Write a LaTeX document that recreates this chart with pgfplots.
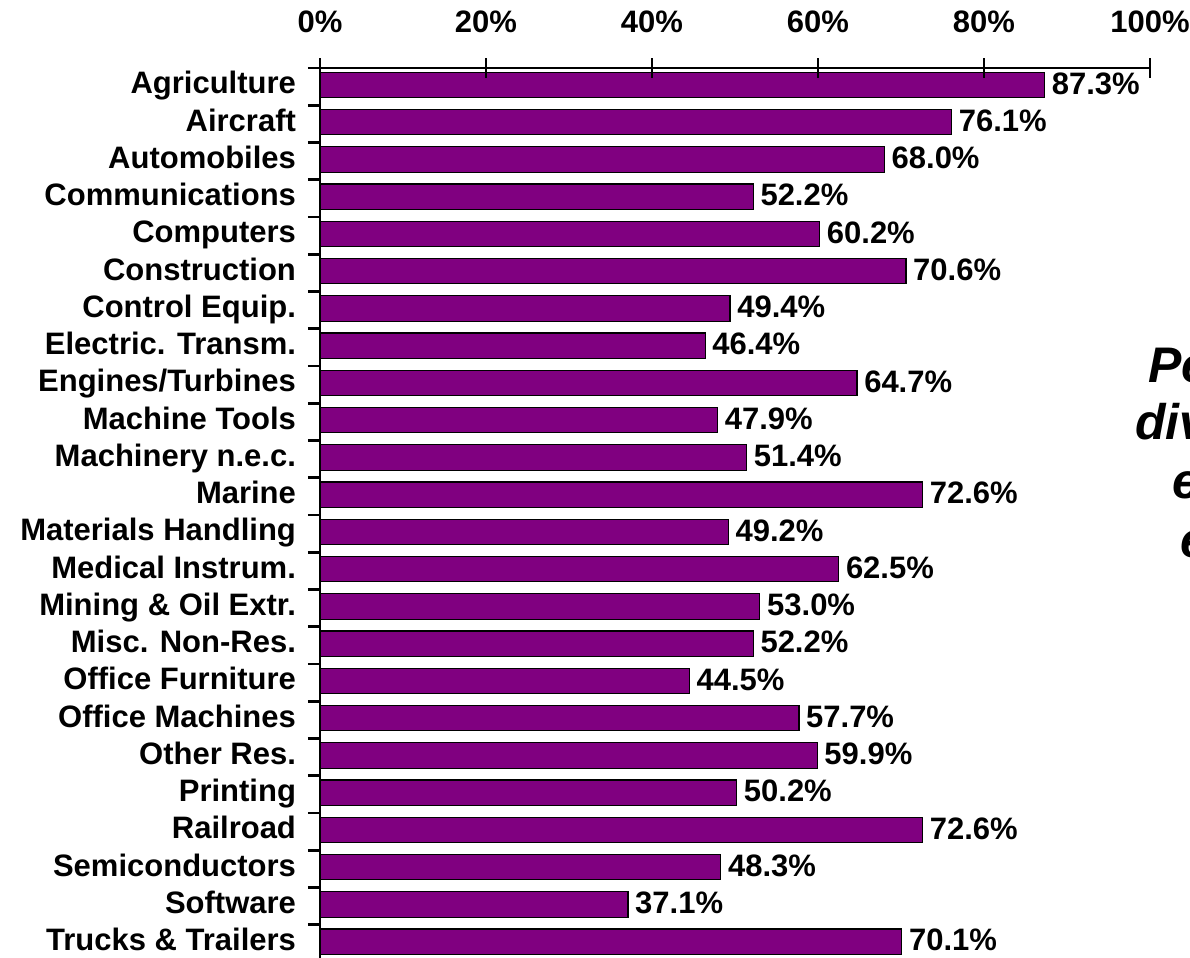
\documentclass[border=0pt]{standalone}
\usepackage{pgfplots}
\pgfplotsset{compat=1.18}
\usepackage{fontspec}
\setmainfont{Liberation Sans}
\definecolor{barpurple}{RGB}{128,0,128}
\pgfplotstableread[col sep=comma]{
idx,val
0,87.3
1,76.1
2,68.0
3,52.2
4,60.2
5,70.6
6,49.4
7,46.4
8,64.7
9,47.9
10,51.4
11,72.6
12,49.2
13,62.5
14,53.0
15,52.2
16,44.5
17,57.7
18,59.9
19,50.2
20,72.6
21,48.3
22,37.1
23,70.1
}\datatable
\begin{document}
\begin{tikzpicture}
\begin{scope}
\clip (-160pt,2pt) rectangle (435pt,481pt);
\begin{axis}[
  scale only axis,
  width=415pt, height=447pt,
  xmin=0, xmax=100,
  ymin=-0.5, ymax=23.5,
  y dir=reverse,
  axis on top,
  axis x line*=top,
  axis y line*=left,
  axis line style={-, line width=1.3pt, black},
  every tick/.style={black, line width=1.3pt},
  major tick length=10pt,
  minor tick length=6pt,
  xtick={0,20,40,60,80,100},
  xticklabels={0\%,20\%,40\%,60\%,80\%,100\%},
  xtick pos=upper,
  xticklabel pos=upper,
  xtick align=center,
  xticklabel style={font=\fontsize{15.5pt}{18pt}\selectfont\bfseries, yshift=9pt},
  ytick={0,...,23},
  yticklabels={Agriculture,Aircraft,Automobiles,Communications,Computers,Construction,Control Equip.,Electric. Transm.,Engines/Turbines,Machine Tools,Machinery n.e.c.,Marine,Materials Handling,Medical Instrum.,Mining \& Oil Extr.,Misc. Non-Res.,Office Furniture,Office Machines,Other Res.,Printing,Railroad,Semiconductors,Software,Trucks \& Trailers},
  ytick pos=lower,
  yticklabel pos=lower,
  major y tick style={draw=none},
  minor ytick={-0.5,0.5,...,23.5},
  ytick align=outside,
  yticklabel style={font=\fontsize{15.5pt}{18pt}\selectfont\bfseries, anchor=east, text height=0.72em, text depth=0pt, xshift=1.5pt},
  /pgf/number format/assume math mode=true,
  xbar,
  bar width=0.68,
  bar shift=-0.045,
  nodes near coords={\pgfmathprintnumber[fixed,precision=1,fixed zerofill]{\pgfplotspointmeta}\%},
  nodes near coords style={font=\fontsize{15.5pt}{18pt}\selectfont\bfseries, anchor=west, xshift=0pt, yshift=-1pt, text=black, text height=0.72em, text depth=0pt},
  point meta=x,
  clip=false,
]
\addplot[fill=barpurple, draw=black, line width=0.6pt] table[x=val, y=idx] {\datatable};
\end{axis}
\begin{scope}[every node/.style={anchor=base west, inner sep=0pt, font=\fontsize{25pt}{30pt}\selectfont\bfseries\itshape}]
\node at (414pt,289.5pt) {Percent};
\node at (407.5pt,261pt) {diversified};
\node at (426pt,231.5pt) {entrants};
\node at (430pt,202pt) {entering};
\end{scope}
\end{scope}
\pgfresetboundingbox
\useasboundingbox (-160pt,2pt) rectangle (435pt,481pt);
\end{tikzpicture}
\end{document}
